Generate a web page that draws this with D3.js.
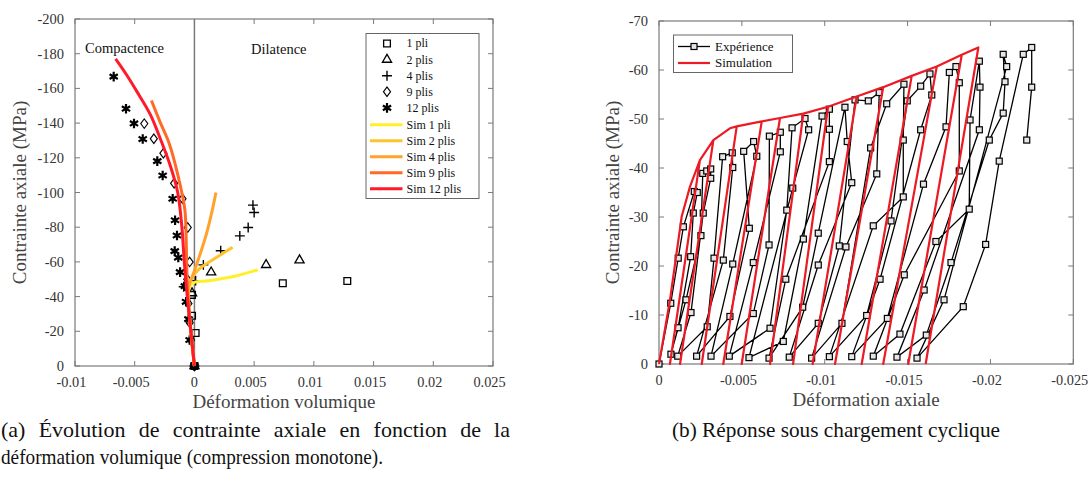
<!DOCTYPE html>
<html>
<head>
<meta charset="utf-8">
<script src="https://cdn.jsdelivr.net/npm/d3@7"></script>
<style>
body { margin: 0; background: #fff; }
svg text { font-family: "Liberation Serif", "Times New Roman", serif; }
</style>
</head>
<body>
<svg id="fig" width="1088" height="479"></svg>
<script>
'use strict';

// ---- (a) monotone compression, volumetric strain vs axial stress
var exp1pliX = [0, 0.0001, -0.0002, -0.0002, 0.0074, 0.0128];
var exp1pliY = [0, -19, -29, -41, -47.7, -49];
var exp2plisX = [0, -0.0002, 0.0014, 0.006, 0.0088];
var exp2plisY = [0, -42, -54, -58.3, -61];
var exp4plisX = [0, -0.0009, 0.0001, 0.00075, 0.0022, 0.0038, 0.0045, 0.005, 0.0049];
var exp4plisY = [0, -45.7, -49.2, -58.3, -66.4, -75, -79.8, -88.5, -92.7];
var exp9plisX = [0, -0.0003, -0.0004, -0.0005, -0.0006, -0.0004, -0.00056, -0.001, -0.0017, -0.0026, -0.0034, -0.0042];
var exp9plisY = [0, -15, -25, -36, -50, -60, -79.8, -96.4, -105.3, -122.6, -131, -139.7];
var exp12plisX = [0, -0.0004, -0.0005, -0.0007, -0.0008, -0.0012, -0.00135, -0.00165, -0.00146, -0.00162, -0.00182, -0.00266, -0.00311, -0.00433, -0.00506, -0.00573, -0.00676];
var exp12plisY = [0, -15, -27, -37, -46, -54.1, -62.5, -66.2, -75.2, -84, -96.4, -109.8, -118.1, -130.8, -139.8, -148.3, -166.8];

var sim1pliX = [0, -0.0003, -0.0005, -0.0004, 0, 0.001, 0.002, 0.0033, 0.0053];
var sim1pliY = [0, -20, -38, -46, -48.2, -49, -50, -51.6, -55.5];
var sim2plisX = [0, -0.0003, -0.0005, -0.0004, 0, 0.0005, 0.0016, 0.0032];
var sim2plisY = [0, -20, -40, -48, -53, -56.5, -61.5, -68.5];
var sim4plisX = [0, -0.0003, -0.0005, -0.0005, -0.0001, 0.0005, 0.001, 0.0015, 0.0018];
var sim4plisY = [0, -20, -38, -45, -53, -65, -76, -90, -100];
var sim9plisX = [0, -0.0003, -0.00055, -0.00065, -0.0007, -0.0008, -0.00135, -0.0021, -0.0029, -0.0036];
var sim9plisY = [0, -20, -40, -60, -75, -90, -109, -128, -141, -153];
var sim12plisX = [0, -0.0003, -0.0006, -0.00085, -0.00105, -0.0014, -0.002, -0.0028, -0.0037, -0.0048, -0.0057, -0.0066];
var sim12plisY = [0, -20, -40, -60, -80, -100, -115, -130, -145, -158, -168, -177];

var xTicksA = [-0.01, -0.005, 0, 0.005, 0.01, 0.015, 0.02, 0.025];
var yTicksA = [0, -20, -40, -60, -80, -100, -120, -140, -160, -180, -200];
var expNamesA = ['1 pli', '2 plis', '4 plis', '9 plis', '12 plis'];
var simNamesA = ['Sim 1 pli', 'Sim 2 plis', 'Sim 4 plis', 'Sim 9 plis', 'Sim 12 plis'];
var simColorsA = ['#fff02a', '#ffc42c', '#ffa22c', '#ff6a24', '#ff1a2a'];

// ---- (b) cyclic loading, axial strain vs axial stress
var expStrain = [0, -0.00071, -0.00116, -0.00147, -0.00213, -0.00231, -0.00207, -0.00191, -0.00115, -0.00072,
    -0.00163, -0.00253, -0.00264, -0.00288, -0.00312, -0.00312, -0.00267, -0.00193, -0.00113,
    -0.00291, -0.00332, -0.00384, -0.00442, -0.00445, -0.00388, -0.00227,
    -0.00428, -0.00545, -0.00511, -0.00571, -0.0059, -0.00445, -0.00314,
    -0.00569, -0.00664, -0.00666, -0.00732, -0.00732, -0.00569, -0.00424,
    -0.0067, -0.00771, -0.00803, -0.00881, -0.00903, -0.00807, -0.00543,
    -0.0075, -0.00871, -0.00984, -0.01028, -0.01028, -0.01028, -0.00765, -0.00664,
    -0.00867, -0.00961, -0.01122, -0.01136, -0.01163, -0.00961, -0.00786,
    -0.00961, -0.01088, -0.01183, -0.01263, -0.01329, -0.01314, -0.01128, -0.00921,
    -0.01104, -0.01277, -0.01374, -0.01478, -0.01474, -0.01474, -0.01293, -0.01028,
    -0.01253, -0.014, -0.01498, -0.01579, -0.01635, -0.01646, -0.01579, -0.01334, -0.01163,
    -0.01378, -0.01596, -0.01732, -0.01752, -0.01792, -0.01812, -0.01812, -0.0148, -0.01293,
    -0.01454, -0.01671, -0.01872, -0.01877, -0.01933, -0.01937, -0.01933, -0.016, -0.01436,
    -0.01613, -0.01762, -0.01993, -0.02077, -0.02088, -0.02077, -0.02098, -0.0172, -0.01557,
    -0.01836, -0.01971, -0.02053, -0.02198, -0.02249, -0.02249, -0.02219];
var expStress = [0, -12.4, -21.6, -28, -35.2, -35, -30.8, -21.9, -7.4, -2,
    -13.1, -26.2, -38.9, -39.4, -39.8, -37.9, -30.8, -10.5, -1.6,
    -7.6, -21.6, -42.3, -43.1, -40.1, -21.2, -1.6,
    -9.7, -27.7, -43.4, -45.4, -42.4, -20.4, -1.6,
    -10.3, -24.3, -46.5, -47.3, -43.3, -20.7, -1.6,
    -7.3, -31.4, -48.2, -50.1, -47.8, -35.9, -1.3,
    -4.6, -25.5, -50.6, -52, -47.9, -41.3, -17.3, -1.2,
    -11.6, -26.7, -52.4, -45.4, -37, -20.2, -1.4,
    -8.3, -24.1, -53.9, -53.7, -55.4, -38.8, -23.9, -1.2,
    -8.3, -44.1, -53.1, -57.1, -45.7, -34.1, -28.2, -1.5,
    -9.9, -29.2, -53.7, -56.7, -59.2, -54.9, -47.8, -17.3, -1.5,
    -9.3, -36.7, -48.4, -59.5, -60.7, -57.4, -39.4, -18.2, -1.6,
    -6.1, -25, -31.6, -49.8, -61.8, -56.5, -47.8, -15.1, -1.4,
    -5.9, -20.7, -45.7, -51.2, -57.6, -63.2, -60.7, -13.1, -1.2,
    -11.7, -24.4, -41.4, -63.2, -64.6, -56.5, -45.7];

var simStrain = [0, -0.00066, -0.00137, -0.00187,
    -0.00247, -0.00066, -0.00247,
    -0.00328, -0.00127, -0.00328, -0.00428,
    -0.00469, -0.00258, -0.00469,
    -0.0062, -0.00388, -0.0062,
    -0.0073, -0.00499, -0.0073,
    -0.00871, -0.0067, -0.00871,
    -0.0102, -0.00809, -0.0102,
    -0.01193, -0.00927, -0.01193,
    -0.01353, -0.01062, -0.01353,
    -0.01525, -0.01223, -0.01525,
    -0.01676, -0.01353, -0.01676,
    -0.01827, -0.01504, -0.01827,
    -0.01927, -0.01609];
var simStress = [0, -13, -30.1, -36.2,
    -41.6, 0, -41.6,
    -45.7, 0, -45.7, -48.1,
    -48.5, 0, -48.5,
    -49.5, 0, -49.5,
    -50.2, 0, -50.2,
    -51.1, 0, -51.1,
    -52.5, 0, -52.5,
    -54.6, 0, -54.6,
    -56.5, 0, -56.5,
    -58.8, 0, -58.8,
    -60.7, 0, -60.7,
    -63.1, 0, -63.1,
    -64.6, 0];

var xTicksB = [0, -0.005, -0.01, -0.015, -0.02, -0.025];
var yTicksB = [0, -10, -20, -30, -40, -50, -60, -70];

var svg = d3.select('#fig');
var axisGrey = '#7a7a7a';
var textGrey = '#333';

function fmt(d) {
    return String(d);
}

function drawFrame(g, x, y, xTicks, yTicks, xLabel, yLabel, yLabelX) {
    var x0 = x.range()[0], x1 = x.range()[1];
    var y0 = y.range()[0], y1 = y.range()[1];
    var tk = 5;

    g.selectAll('line.xt').data(xTicks).enter().append('line')
        .attr('x1', function (d) { return x(d); })
        .attr('x2', function (d) { return x(d); })
        .attr('y1', y0).attr('y2', y0 - tk)
        .attr('stroke', axisGrey);
    g.selectAll('line.xt2').data(xTicks).enter().append('line')
        .attr('x1', function (d) { return x(d); })
        .attr('x2', function (d) { return x(d); })
        .attr('y1', y1).attr('y2', y1 + tk)
        .attr('stroke', axisGrey);
    g.selectAll('line.yt').data(yTicks).enter().append('line')
        .attr('x1', x0).attr('x2', x0 + tk)
        .attr('y1', function (d) { return y(d); })
        .attr('y2', function (d) { return y(d); })
        .attr('stroke', axisGrey);
    g.selectAll('line.yt2').data(yTicks).enter().append('line')
        .attr('x1', x1).attr('x2', x1 - tk)
        .attr('y1', function (d) { return y(d); })
        .attr('y2', function (d) { return y(d); })
        .attr('stroke', axisGrey);

    g.append('rect')
        .attr('x', x0).attr('y', y1)
        .attr('width', x1 - x0).attr('height', y0 - y1)
        .attr('fill', 'none').attr('stroke', axisGrey).attr('stroke-width', 1.2);

    // labels of non-zero ticks sit a little left of their tick, as in the source figure
    g.selectAll('text.xl').data(xTicks).enter().append('text')
        .attr('x', function (d) { return x(d) - (d === 0 ? 0 : 3.5); })
        .attr('y', y0 + 21)
        .attr('text-anchor', 'middle')
        .attr('font-size', 14.3).attr('fill', textGrey)
        .text(fmt);
    g.selectAll('text.yl').data(yTicks).enter().append('text')
        .attr('x', x0 - 11)
        .attr('y', function (d) { return y(d); })
        .attr('dy', '0.35em')
        .attr('text-anchor', 'end')
        .attr('font-size', 14.5).attr('fill', textGrey)
        .text(fmt);

    g.append('text')
        .attr('x', (x0 + x1) / 2).attr('y', y0 + 42)
        .attr('text-anchor', 'middle')
        .attr('font-size', 19).attr('fill', '#444')
        .text(xLabel);
    g.append('text')
        .attr('transform', 'translate(' + yLabelX + ',' + ((y0 + y1) / 2) + ') rotate(-90)')
        .attr('text-anchor', 'middle')
        .attr('font-size', 19).attr('fill', '#444')
        .text(yLabel);
}

// ================= panel (a)
var xA = d3.scaleLinear().domain([-0.01, 0.025]).range([75, 493]);
var yA = d3.scaleLinear().domain([0, -200]).range([366, 19]);
var gA = svg.append('g');

drawFrame(gA, xA, yA, xTicksA, yTicksA, 'Déformation volumique', 'Contrainte axiale (MPa)', 26);

gA.append('line')
    .attr('x1', xA(0)).attr('x2', xA(0))
    .attr('y1', yA(0)).attr('y2', yA(-200))
    .attr('stroke', axisGrey).attr('stroke-width', 1.5);

gA.append('text').attr('x', 85).attr('y', 52.5)
    .attr('font-size', 14.5).attr('fill', '#111').text('Compactence');
gA.append('text').attr('x', 251).attr('y', 53.5)
    .attr('font-size', 14.5).attr('fill', '#111').text('Dilatence');

var symbolsA = [
    d3.symbol().type(d3.symbolSquare2).size(58),
    d3.symbol().type(d3.symbolTriangle2).size(60),
    d3.symbol().type(d3.symbolPlus).size(34),
    d3.symbol().type(d3.symbolDiamond2).size(52),
    d3.symbol().type(d3.symbolAsterisk).size(64)
];
var expXA = [exp1pliX, exp2plisX, exp4plisX, exp9plisX, exp12plisX];
var expYA = [exp1pliY, exp2plisY, exp4plisY, exp9plisY, exp12plisY];
var simXA = [sim1pliX, sim2plisX, sim4plisX, sim9plisX, sim12plisX];
var simYA = [sim1pliY, sim2plisY, sim4plisY, sim9plisY, sim12plisY];
var strokeA = [1.3, 1.3, 1.4, 1.3, 2.2];

function pointTransform(x, y, k) {
    return function (d, i) {
        var t = 'translate(' + x(d) + ',' + y(expYA[k][i]) + ')';
        if (k === 3) t += ' scale(0.78,1.05)';
        return t;
    };
}

expXA.forEach(function (xs, k) {
    gA.append('g').selectAll('path')
        .data(xs)
        .enter().append('path')
        .attr('d', symbolsA[k])
        .attr('transform', pointTransform(xA, yA, k))
        .attr('fill', 'none')
        .attr('stroke', '#000')
        .attr('stroke-width', strokeA[k]);
});

var lineA = d3.line()
    .x(function (d) { return xA(d[0]); })
    .y(function (d) { return yA(d[1]); })
    .curve(d3.curveCatmullRom.alpha(0.5));

simXA.forEach(function (xs, k) {
    gA.append('path')
        .attr('d', lineA(d3.zip(xs, simYA[k])))
        .attr('fill', 'none')
        .attr('stroke', simColorsA[k])
        .attr('stroke-width', 3);
});

// legend (a)
var legA = gA.append('g');
legA.append('rect')
    .attr('x', 366).attr('y', 33.5).attr('width', 113).attr('height', 165)
    .attr('fill', '#fff').attr('stroke', '#666').attr('stroke-width', 1);
expNamesA.forEach(function (name, k) {
    var yy = 43.5 + k * 16.1;
    legA.append('path')
        .attr('d', symbolsA[k])
        .attr('transform', 'translate(387,' + yy + ')' + (k === 3 ? ' scale(0.78,1.05)' : ''))
        .attr('fill', 'none').attr('stroke', '#000')
        .attr('stroke-width', strokeA[k]);
    legA.append('text')
        .attr('x', 406.5).attr('y', yy).attr('dy', '0.33em')
        .attr('font-size', 12).attr('fill', '#111')
        .text(name);
});
simNamesA.forEach(function (name, k) {
    var yy = 124.7 + k * 16;
    legA.append('line')
        .attr('x1', 370).attr('x2', 402.5).attr('y1', yy).attr('y2', yy)
        .attr('stroke', simColorsA[k]).attr('stroke-width', 3);
    legA.append('text')
        .attr('x', 406.5).attr('y', yy).attr('dy', '0.33em')
        .attr('font-size', 12).attr('fill', '#111')
        .text(name);
});

// ================= panel (b)
var xB = d3.scaleLinear().domain([0, -0.025]).range([659, 1073.3]);
var yB = d3.scaleLinear().domain([0, -70]).range([364, 21]);
var gB = svg.append('g');

drawFrame(gB, xB, yB, xTicksB, yTicksB, 'Déformation axiale', 'Contrainte axiale (MPa)', 619);

var expPts = d3.zip(expStrain, expStress);
var simPts = d3.zip(simStrain, simStress);

var lineB = d3.line()
    .x(function (d) { return xB(d[0]); })
    .y(function (d) { return yB(d[1]); });

gB.append('path')
    .attr('d', lineB(expPts))
    .attr('fill', 'none').attr('stroke', '#000').attr('stroke-width', 1.3);

gB.append('g').selectAll('rect')
    .data(expPts)
    .enter().append('rect')
    .attr('x', function (d) { return xB(d[0]) - 3; })
    .attr('y', function (d) { return yB(d[1]) - 3; })
    .attr('width', 6).attr('height', 6)
    .attr('fill', '#e6e6e6').attr('stroke', '#000').attr('stroke-width', 1.2);

gB.append('path')
    .attr('d', lineB(simPts))
    .attr('fill', 'none').attr('stroke', '#ec1a24').attr('stroke-width', 2.2)
    .attr('stroke-linejoin', 'round');

// legend (b)
var legB = gB.append('g');
legB.append('rect')
    .attr('x', 673.5).attr('y', 35).attr('width', 119).attr('height', 37.5)
    .attr('fill', '#fff').attr('stroke', '#666').attr('stroke-width', 1);
legB.append('line')
    .attr('x1', 678).attr('x2', 710).attr('y1', 46.5).attr('y2', 46.5)
    .attr('stroke', '#000').attr('stroke-width', 1.3);
legB.append('rect')
    .attr('x', 691).attr('y', 43.5).attr('width', 6).attr('height', 6)
    .attr('fill', '#e6e6e6').attr('stroke', '#000').attr('stroke-width', 1.2);
legB.append('text')
    .attr('x', 715).attr('y', 46.5).attr('dy', '0.33em')
    .attr('font-size', 13).attr('fill', '#111').text('Expérience');
legB.append('line')
    .attr('x1', 678).attr('x2', 710).attr('y1', 63).attr('y2', 63)
    .attr('stroke', '#ec1a24').attr('stroke-width', 2.2);
legB.append('text')
    .attr('x', 715).attr('y', 63).attr('dy', '0.33em')
    .attr('font-size', 13).attr('fill', '#111').text('Simulation');

// ================= captions
// first line of (a) is justified: stretch only the word gaps
var cap1 = svg.append('text').attr('x', 1).attr('y', 437)
    .attr('font-size', 22).attr('fill', '#111')
    .text('(a) Évolution de contrainte axiale en fonction de la');
var cap1Words = cap1.text().split(' ').length - 1;
var cap1Gap = (509 - cap1.node().getComputedTextLength()) / cap1Words;
cap1.style('word-spacing', cap1Gap + 'px');

svg.append('text').attr('x', 1).attr('y', 464)
    .attr('font-size', 22).attr('fill', '#111')
    .attr('textLength', 382).attr('lengthAdjust', 'spacingAndGlyphs')
    .text('déformation volumique (compression monotone).');
svg.append('text').attr('x', 672).attr('y', 437)
    .attr('font-size', 22).attr('fill', '#111')
    .attr('textLength', 328).attr('lengthAdjust', 'spacingAndGlyphs')
    .text('(b) Réponse sous chargement cyclique');
</script>
</body>
</html>
